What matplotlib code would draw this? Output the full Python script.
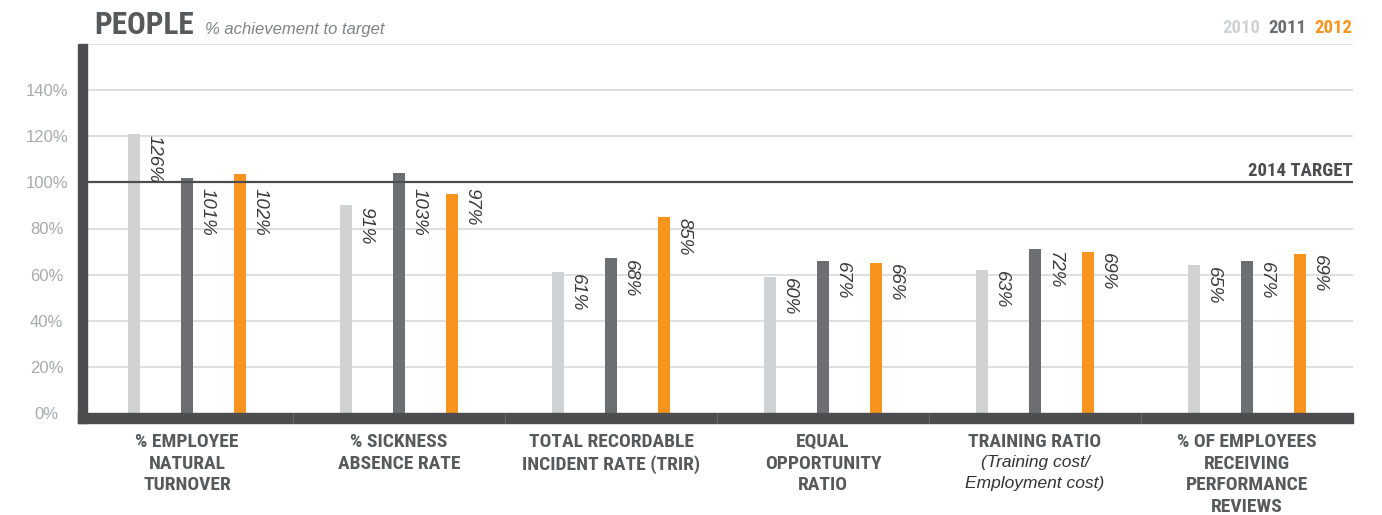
import matplotlib
matplotlib.use("Agg")
import matplotlib.pyplot as plt
import matplotlib.transforms as mtransforms
from matplotlib import font_manager
from matplotlib.patches import Rectangle
import numpy as np

# datos
categorias = ["% EMPLOYEE\nNATURAL\nTURNOVER",
              "% SICKNESS\nABSENCE RATE",
              "TOTAL RECORDABLE\nINCIDENT RATE (TRIR)",
              "EQUAL\nOPPORTUNITY\nRATIO",
              "TRAINING RATIO",
              "% OF EMPLOYEES\nRECEIVING\nPERFORMANCE\nREVIEWS"]
nota_training = "(Training cost/\nEmployment cost)"
anios = ["2010", "2011", "2012"]

# altura de las barras (como se ven en la imagen)
h2010 = [121, 90, 61, 59, 62, 64]
h2011 = [102, 104, 67, 66, 71, 66]
h2012 = [103.5, 95, 85, 65, 70, 69]

# etiquetas impresas sobre cada barra
l2010 = ["126%", "91%", "61%", "60%", "63%", "65%"]
l2011 = ["101%", "103%", "68%", "67%", "72%", "67%"]
l2012 = ["102%", "97%", "85%", "66%", "69%", "69%"]

yticks = [0, 20, 40, 60, 80, 100, 120, 140]
target = 100

colores = ["#d1d2d4", "#6d6e71", "#f7941d"]
oscuro = "#4d4d4f"
gris_grid = "#dcdcdc"

# buscar una fuente estrecha instalada
fuentes = font_manager.fontManager.ttflist
nombres = {f.name for f in fuentes}
narrow_kw = {"family": ["Roboto", "DejaVu Sans"], "fontstretch": "normal"}
escala = 0.82
for cand in ["Liberation Sans Narrow", "Roboto Condensed", "Open Sans Condensed"]:
    if cand in nombres:
        narrow_kw = {"family": [cand, "DejaVu Sans"], "fontstretch": "normal"}
        escala = 1.0
        break
else:
    if any(f.name == "DejaVu Sans" and f.stretch == "condensed" for f in fuentes):
        narrow_kw = {"family": ["DejaVu Sans"], "fontstretch": "condensed"}
        escala = 0.85

W, H = 1382, 515
fig = plt.figure(figsize=(W / 100, H / 100), dpi=100)
ax = fig.add_axes([87 / W, (H - 413) / H, (1353 - 87) / W, (413 - 44) / H])

x = np.arange(len(categorias))
ancho = 12 / 212
desp = [-0.25, 0, 0.25]

ax.set_xlim(-0.472, 5.5)
ax.set_ylim(0, 160)

# grid
for y in yticks[1:] + [160]:
    ax.axhline(y, color=gris_grid, lw=1.3, zorder=0)

alturas = [h2010, h2011, h2012]
etiquetas = [l2010, l2011, l2012]
for i in range(3):
    ax.bar(x + desp[i], alturas[i], width=ancho, color=colores[i], zorder=2)
    for j in range(len(categorias)):
        h = alturas[i][j]
        ytxt = 97.6 if 94 < h < 115 else h - 0.6
        ax.text(x[j] + desp[i] + ancho / 2 + 5 / 212, ytxt, etiquetas[i][j],
                rotation=270, ha="left", va="top", fontsize=13.5,
                family=["Liberation Sans", "DejaVu Sans"], style="italic",
                color="#3a3a3a", zorder=4)

# linea objetivo
ax.axhline(target, color=oscuro, lw=1.6, zorder=3)
ax.text(5.5, target + 2.6, "2014 TARGET", ha="right", va="baseline",
        fontsize=13.5 * escala, weight="bold", color=oscuro, **narrow_kw)

# ejes: barras gruesas izquierda y abajo
for s in ax.spines.values():
    s.set_visible(False)
dx = 9 / (1353 - 87)
dy = 10 / (413 - 44)
ax.add_patch(Rectangle((-dx, -dy), dx, 1 + dy, transform=ax.transAxes,
                       color=oscuro, clip_on=False, zorder=5))
ax.add_patch(Rectangle((-dx, -dy), 1 + dx, dy, transform=ax.transAxes,
                       color=oscuro, clip_on=False, zorder=5))
trans = mtransforms.blended_transform_factory(ax.transData, ax.transAxes)
for k in x[:-1]:
    ax.plot([k + 0.5, k + 0.5], [-dy, 0], transform=trans, color="#666668",
            lw=0.8, clip_on=False, zorder=6)

ax.set_xticks([])
ax.set_yticks(yticks)
ax.set_yticklabels([f"{t}%" for t in yticks], ha="center",
                   family=["Liberation Sans", "DejaVu Sans"])
ax.tick_params(axis="y", length=0, pad=29, labelsize=12, labelcolor="#a7a9ac")

# nombres de categorias
for j, c in enumerate(categorias):
    ax.text(x[j], -0.054, c, transform=trans, ha="center", va="top",
            fontsize=14 * escala, weight="bold", color="#58595b",
            linespacing=1.26, **narrow_kw)
ax.text(x[4], -0.113, nota_training, transform=trans, ha="center", va="top",
        fontsize=12.5, style="italic", family=["Liberation Sans", "DejaVu Sans"],
        color="#333333", linespacing=1.55)

# titulo
fig.text(94 / W, 1 - 34 / H, "PEOPLE", ha="left", va="baseline",
         fontsize=22.5 * escala, weight="bold", color="#58595b", **narrow_kw)
fig.text(205 / W, 1 - 34 / H, "% achievement to target", ha="left", va="baseline",
         fontsize=12, style="italic", family=["Liberation Sans", "DejaVu Sans"],
         color="#808285")

# leyenda
for a, col, xr in zip(anios, colores, [1260, 1306, 1352]):
    fig.text(xr / W, 1 - 33 / H, a, ha="right", va="baseline",
             fontsize=13.5 * escala, weight="bold", color=col, **narrow_kw)

fig.savefig("out.png", dpi=100)
